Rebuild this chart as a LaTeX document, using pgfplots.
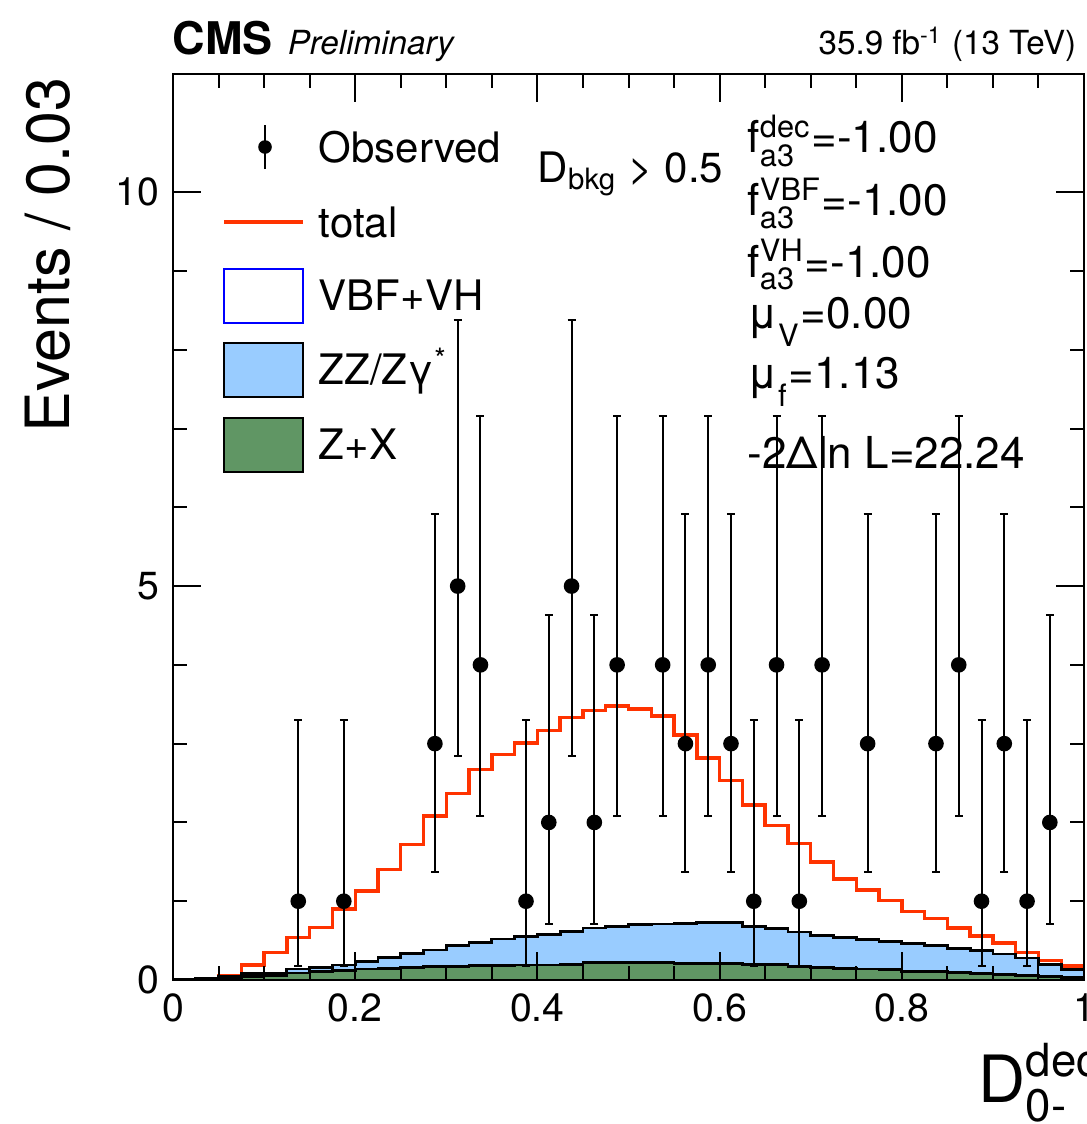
\documentclass[border=0pt]{standalone}
\usepackage{fontspec}
\setmainfont{TeX Gyre Heros}
\usepackage{amsmath}
\usepackage{pgfplots}
\usepackage{pgfplotstable}
\pgfplotsset{compat=1.18}

\definecolor{totred}{RGB}{255,51,0}
\definecolor{zzblue}{RGB}{153,204,255}
\definecolor{zxgreen}{RGB}{96,150,100}

\pgfplotstableread{
x y ep em
0.1375 1 2.300 0.827
0.1875 1 2.300 0.827
0.2875 3 2.918 1.633
0.3125 5 3.382 2.159
0.3375 4 3.162 1.914
0.3875 1 2.300 0.827
0.4125 2 2.638 1.292
0.4375 5 3.382 2.159
0.4625 2 2.638 1.292
0.4875 4 3.162 1.914
0.5375 4 3.162 1.914
0.5625 3 2.918 1.633
0.5875 4 3.162 1.914
0.6125 3 2.918 1.633
0.6375 1 2.300 0.827
0.6625 4 3.162 1.914
0.6875 1 2.300 0.827
0.7125 4 3.162 1.914
0.7625 3 2.918 1.633
0.8375 3 2.918 1.633
0.8625 4 3.162 1.914
0.8875 1 2.300 0.827
0.9125 3 2.918 1.633
0.9375 1 2.300 0.827
0.9625 2 2.638 1.292
}\obs

\pgfplotstableread{
x tot stk zx
0.000 0.005 0.005 0.000
0.025 0.02 0.02 0.01
0.050 0.06 0.04 0.02
0.075 0.19 0.08 0.04
0.100 0.35 0.09 0.06
0.125 0.54 0.14 0.09
0.150 0.67 0.16 0.11
0.175 0.90 0.19 0.12
0.200 1.13 0.23 0.14
0.225 1.40 0.29 0.15
0.250 1.72 0.34 0.16
0.275 2.08 0.38 0.17
0.300 2.37 0.44 0.17
0.325 2.67 0.48 0.18
0.350 2.86 0.52 0.18
0.375 3.01 0.55 0.19
0.400 3.17 0.58 0.19
0.425 3.33 0.62 0.20
0.450 3.42 0.66 0.22
0.475 3.48 0.68 0.22
0.500 3.44 0.70 0.22
0.525 3.35 0.71 0.22
0.550 3.11 0.72 0.21
0.575 2.82 0.73 0.21
0.600 2.53 0.73 0.21
0.625 2.22 0.68 0.20
0.650 1.96 0.65 0.20
0.675 1.73 0.61 0.17
0.700 1.50 0.56 0.16
0.725 1.28 0.54 0.15
0.750 1.14 0.51 0.14
0.775 1.01 0.49 0.13
0.800 0.87 0.46 0.11
0.825 0.78 0.44 0.11
0.850 0.66 0.40 0.10
0.875 0.56 0.37 0.08
0.900 0.47 0.33 0.07
0.925 0.35 0.28 0.055
0.950 0.25 0.20 0.04
0.975 0.18 0.13 0.03
1.000 0.18 0.13 0.03
}\hist

\begin{document}
\begin{tikzpicture}
\useasboundingbox (-43.25pt,-36pt) rectangle (228.25pt,245pt);
\begin{axis}[
  at={(0,0)}, anchor=south west,
  width=227.75pt, height=226.5pt, scale only axis,
  xmin=0, xmax=1, ymin=0, ymax=11.5,
  xtick={0,0.2,0.4,0.6,0.8,1}, ytick={0,5,10},
  minor x tick num=3, minor y tick num=4,
  tick align=inside,
  major tick length=7pt, minor tick length=3.5pt,
  axis line style={line width=0.5pt, black},
  every tick/.style={black, line width=0.5pt},
  tick label style={font=\fontsize{9.8}{11}\selectfont},
  /pgf/number format/assume math mode=true,
  axis on top,
  clip=false,
]
\addplot[const plot mark left, no markers, totred, line width=0.85pt] table[x=x,y=tot]{\hist};
\addplot[const plot mark left, no markers, fill=zzblue, draw=black, line width=0.7pt] table[x=x,y=stk]{\hist} \closedcycle;
\addplot[const plot mark left, no markers, fill=zxgreen, draw=black, line width=0.7pt] table[x=x,y=zx]{\hist} \closedcycle;
\addplot[only marks, mark=*, mark size=1.75pt, black,
  error bars/.cd, y dir=both, y explicit,
  error mark=-,
  error bar style={line width=0.5pt, black},
  error mark options={rotate=90, mark size=1pt, line width=0.5pt, black}]
  table[x=x, y=y, y error plus=ep, y error minus=em]{\obs};

% legend
\draw[line width=0.5pt] ([yshift=-5.5pt]axis description cs:0.101,0.9194) -- ([yshift=5.5pt]axis description cs:0.101,0.9194);
\fill (axis description cs:0.101,0.9194) circle (1.7pt);
\draw[totred, line width=0.85pt] (axis description cs:0.056,0.8366) -- (axis description cs:0.1427,0.8366);
\draw[blue, line width=0.6pt, fill=white] ([yshift=-6.75pt]axis description cs:0.056,0.7550) rectangle ([yshift=6.75pt]axis description cs:0.1427,0.7550);
\draw[black, line width=0.6pt, fill=zzblue] ([yshift=-6.75pt]axis description cs:0.056,0.6733) rectangle ([yshift=6.75pt]axis description cs:0.1427,0.6733);
\draw[black, line width=0.6pt, fill=zxgreen] ([yshift=-6.75pt]axis description cs:0.056,0.5905) rectangle ([yshift=6.75pt]axis description cs:0.1427,0.5905);
\begin{scope}[every node/.style={anchor=base west, inner sep=0pt, font=\fontsize{10.5}{12}\selectfont}]
\node at ([yshift=-3.75pt]axis description cs:0.1592,0.9194) {Observed};
\node at ([yshift=-3.75pt]axis description cs:0.1592,0.8366) {total};
\node at ([yshift=-3.75pt]axis description cs:0.1592,0.7550) {VBF+VH};
\node at ([yshift=-3.75pt]axis description cs:0.1592,0.6733) {ZZ/Zγ\textsuperscript{*}};
\node at ([yshift=-3.75pt]axis description cs:0.1592,0.5905) {Z+X};
\node at (axis description cs:0.3996,0.8797) {D$_{\text{bkg}}$ > 0.5};
\end{scope}
\begin{scope}[every node/.style={anchor=base west, inner sep=0pt, font=\fontsize{11}{13}\selectfont}]
\node at (axis description cs:0.630,0.9128) {f$^{\text{dec}}_{\text{a3}}$=-1.00};
\node at (axis description cs:0.630,0.8433) {f$^{\text{VBF}}_{\text{a3}}$=-1.00};
\node at (axis description cs:0.630,0.7759) {f$^{\text{VH}}_{\text{a3}}$=-1.00};
\node at (axis description cs:0.630,0.7196) {μ$_{\text{\raisebox{-3pt}{V}}}$=0.00};
\node at (axis description cs:0.630,0.6534) {μ$_{\text{\raisebox{-3pt}{f}}}$=1.13};
\node at (axis description cs:0.630,0.5651) {-2Δln L=22.24};
\end{scope}
% titles and labels
\node[anchor=base west, inner sep=0pt, font=\fontsize{11.25}{13}\selectfont\bfseries] at ([xshift=-0.25pt,yshift=4.75pt]axis description cs:0,1) {CMS};
\node[anchor=base west, inner sep=0pt, font=\fontsize{8.3}{10}\selectfont\itshape] at ([yshift=4.75pt]axis description cs:0.1251,1) {Preliminary};
\node[anchor=base east, inner sep=0pt, font=\fontsize{8.3}{10}\selectfont] at ([yshift=4.75pt]axis description cs:0.9923,1) {35.9 fb\textsuperscript{-1} (13 TeV)};
\node[anchor=base west, inner sep=0pt, font=\fontsize{16.3}{18}\selectfont] at ([yshift=-30.5pt]axis description cs:0.8836,0) {D$^{\text{dec}}_{\text{0-}}$};
\node[rotate=90, anchor=base east, inner sep=0pt, font=\fontsize{15.25}{17}\selectfont] at ([xshift=-25.75pt]axis description cs:0,0.9967) {Events / 0.03};
\end{axis}
\end{tikzpicture}
\end{document}
